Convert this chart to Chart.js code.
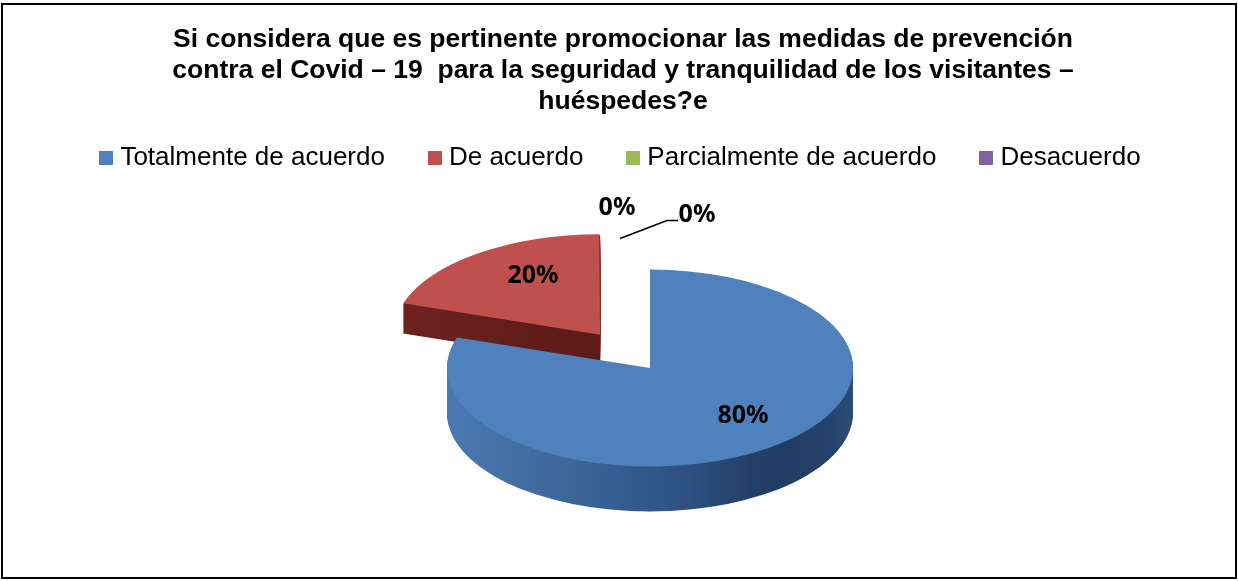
<!DOCTYPE html>
<html lang="es">
<head>
<meta charset="UTF-8" />
<title>Medidas de prevención contra el Covid-19</title>
<script src="https://cdn.jsdelivr.net/npm/chart.js@4.4.1/dist/chart.umd.min.js"></script>
<style>
  html, body { margin: 0; padding: 0; background: #fff; overflow: hidden; }
  .chart-frame {
    position: absolute;
    left: 1px;
    top: 3px;
    width: 1232px;
    height: 572px;
    border: 2px solid #000;
    background: #fff;
  }
</style>
</head>
<body>
<div class="chart-frame"><canvas id="pieChart"></canvas></div>

<script>
const titleLines = [
  "Si considera que es pertinente promocionar las medidas de prevención",
  "contra el Covid – 19  para la seguridad y tranquilidad de los visitantes –",
  "huéspedes?e"
];
const categories = ["Totalmente de acuerdo", "De acuerdo", "Parcialmente de acuerdo", "Desacuerdo"];
const answers = [80, 20, 0, 0];

const topColors = ["#4F81BD", "#C0504D", "#9BBB59", "#8064A2"];
const total = answers.reduce((a, b) => a + b, 0);

// fake 3D: squash the pie vertically and extrude it downwards
const tilt = 0.485;
const depths = [45, 30, 0, 0];
const shiftX = 27;
const labelRadius = [0.78, 0.55, 1, 1];
const labelLift = 14;

function pieCenter(chart) {
  const arc = chart.getDatasetMeta(0).data[0];
  return { x: arc.x, y: arc.y };
}

function project(chart, x, y) {
  const c = pieCenter(chart);
  return { x: x + shiftX, y: c.y + (y - c.y) * tilt };
}

// centre of a slice after its explode offset (same maths as ArcElement.draw)
function sliceOrigin(arc) {
  const off = (arc.options.offset || 0) / 4;
  const mid = (arc.startAngle + arc.endAngle) / 2;
  const fix = 1 - Math.sin(Math.min(Math.PI, arc.circumference || 0));
  return {
    x: arc.x + Math.cos(mid) * off,
    y: arc.y + Math.sin(mid) * off,
    r: arc.outerRadius + off * fix,
    mid: mid
  };
}

function slicePath(ctx, arc) {
  const o = sliceOrigin(arc);
  ctx.beginPath();
  ctx.moveTo(o.x, o.y);
  ctx.arc(o.x, o.y, o.r, arc.startAngle, arc.endAngle);
  ctx.closePath();
}

function sideFills(ctx, arcs) {
  return arcs.map((arc, i) => {
    const o = sliceOrigin(arc);
    const g = ctx.createLinearGradient(o.x - o.r, 0, o.x + o.r, 0);
    if (i === 0) {
      g.addColorStop(0, "#4b79b2");
      g.addColorStop(0.3, "#3d6699");
      g.addColorStop(0.55, "#2f5486");
      g.addColorStop(0.8, "#213c62");
      g.addColorStop(0.95, "#26436b");
      g.addColorStop(1, "#2d4d78");
    } else if (i === 1) {
      g.addColorStop(0, "#6e2220");
      g.addColorStop(0.5, "#5c1a18");
      g.addColorStop(1, "#4e1514");
    } else {
      g.addColorStop(0, "#555");
      g.addColorStop(1, "#555");
    }
    return g;
  });
}

// square legend swatch, drawn a little to the left so the text sits close to it
function legendSwatch(color) {
  const c = document.createElement("canvas");
  c.width = 14;
  c.height = 14;
  const g = c.getContext("2d");
  g.fillStyle = color;
  g.fillRect(0, 0, 14, 14);
  return c;
}

const tiltedPie = {
  id: "tiltedPie",
  beforeDatasetsDraw(chart) {
    const ctx = chart.ctx;
    const c = pieCenter(chart);
    const arcs = chart.getDatasetMeta(0).data;
    ctx.save();
    ctx.translate(c.x + shiftX, c.y);
    ctx.scale(1, tilt);
    ctx.translate(-c.x, -c.y);
    const fills = sideFills(ctx, arcs);
    const maxDepth = Math.max(...depths);
    for (let i = maxDepth; i > 0; i--) {
      ctx.save();
      ctx.translate(0, i / tilt);
      arcs.forEach((arc, idx) => {
        if (!arc.circumference || i > depths[idx]) return;
        ctx.fillStyle = fills[idx];
        slicePath(ctx, arc);
        ctx.fill();
      });
      ctx.restore();
    }
  },
  afterDatasetsDraw(chart) {
    const ctx = chart.ctx;
    ctx.restore();

    const arcs = chart.getDatasetMeta(0).data;
    ctx.save();
    ctx.fillStyle = "#000";
    ctx.font = "bold 25px 'Noto Sans', sans-serif";
    ctx.textAlign = "center";
    ctx.textBaseline = "middle";

    const zeroLabels = [];
    arcs.forEach((arc, i) => {
      const text = Math.round(answers[i] / total * 100) + "%";
      const o = sliceOrigin(arc);
      if (arc.circumference > 0) {
        const f = labelRadius[i];
        const p = project(chart, o.x + Math.cos(o.mid) * o.r * f, o.y + Math.sin(o.mid) * o.r * f);
        ctx.fillText(text, p.x, p.y - labelLift);
      } else {
        const a = arc.startAngle;
        zeroLabels.push({ text, p: project(chart, o.x + Math.cos(a) * o.r, o.y + Math.sin(a) * o.r) });
      }
    });

    // empty slices sit on top of each other at 12 o'clock
    if (zeroLabels.length) {
      const a = zeroLabels[0].p;
      ctx.fillText(zeroLabels[0].text, a.x - 33, a.y - 62);
      if (zeroLabels[1]) {
        ctx.fillText(zeroLabels[1].text, a.x + 47, a.y - 55);
        ctx.strokeStyle = "#000";
        ctx.lineWidth = 1.5;
        ctx.beginPath();
        ctx.moveTo(a.x - 30, a.y - 31);
        ctx.lineTo(a.x + 17, a.y - 49);
        ctx.lineTo(a.x + 28, a.y - 49);
        ctx.stroke();
      }
    }
    ctx.restore();
  }
};

new Chart(document.getElementById("pieChart"), {
  type: "pie",
  data: {
    labels: categories,
    datasets: [{
      data: answers,
      backgroundColor: topColors,
      borderWidth: 0,
      offset: [0, 340, 0, 0],
      clip: false
    }]
  },
  options: {
    responsive: true,
    maintainAspectRatio: false,
    animation: false,
    events: [],
    radius: 203,
    layout: { padding: { top: 0, left: 8, right: 0, bottom: 22 } },
    plugins: {
      title: {
        display: true,
        text: titleLines,
        color: "#000",
        font: { family: "'Liberation Sans', Arial, sans-serif", size: 26.5, weight: "bold", lineHeight: 1.17 },
        padding: { top: 19, bottom: -21 }
      },
      legend: {
        position: "top",
        labels: {
          color: "#000",
          font: { family: "'Liberation Sans', Arial, sans-serif", size: 26 },
          usePointStyle: true,
          pointStyleWidth: 2,
          boxHeight: 14,
          padding: 49,
          generateLabels(chart) {
            const items = Chart.overrides.pie.plugins.legend.labels.generateLabels(chart);
            items.forEach(item => { item.pointStyle = legendSwatch(topColors[item.index]); });
            return items;
          }
        }
      },
      tooltip: { enabled: false }
    }
  },
  plugins: [tiltedPie]
});
</script>
</body>
</html>
